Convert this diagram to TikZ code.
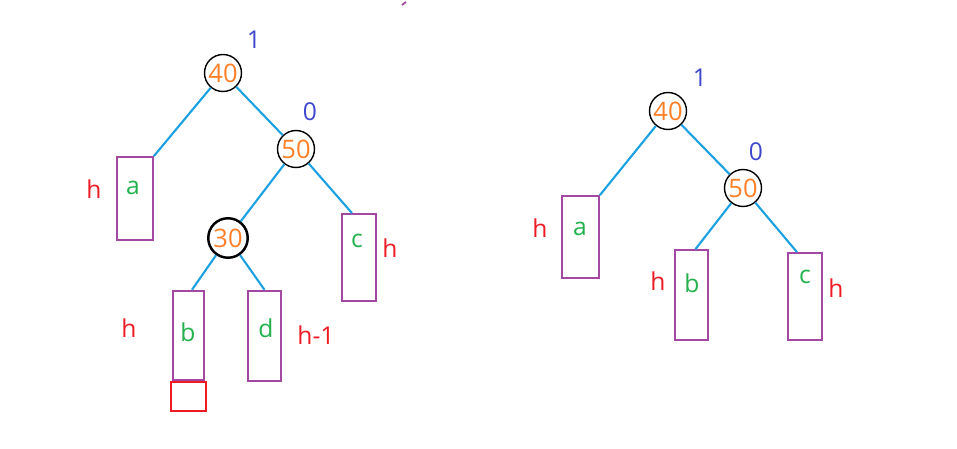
\documentclass[tikz,border=0pt]{standalone}
\usepackage{fontspec}
\setmainfont{Open Sans}
\usetikzlibrary{positioning}
\definecolor{edgeblue}{HTML}{1BA1E2}
\definecolor{boxpurple}{HTML}{A349A4}
\definecolor{keyorange}{HTML}{FF7F27}
\definecolor{leafgreen}{HTML}{22B14C}
\definecolor{heightred}{HTML}{ED1C24}
\definecolor{bfblue}{HTML}{3F48CC}

\begin{document}
\begin{tikzpicture}[
  x=0.2mm, y=-0.2mm,
  key/.style={circle, draw=black, line width=0.8pt, minimum size=7.4mm, inner sep=0pt, text=keyorange, font=\fontsize{14.5}{16}\selectfont},
  subtree/.style={rectangle, draw=boxpurple, line width=1pt, minimum width=6.8mm, minimum height=17.4mm, inner sep=0pt},
  leaf/.style={text=leafgreen, font=\fontsize{14}{16}\selectfont},
  height/.style={text=heightred, font=\fontsize{14}{16}\selectfont},
  bf/.style={text=bfblue, font=\fontsize{14}{16}\selectfont},
  link/.style={draw=edgeblue, line width=1.2pt}
]
  \useasboundingbox (0,0) rectangle (957,448);
  \draw[boxpurple, line width=1pt] (402,5) -- (406,2);

  % left tree
  \node[key] (l40) at (223,73) {40};
  \node[key] (l50) at (296,149) {50};
  \node[key, line width=1.4pt, minimum size=7.9mm] (l30) at (228,238) {30};
  \node[subtree, minimum width=7.2mm, minimum height=16.6mm] (la) at (135,198.5) {};
  \node[subtree] (lc) at (359,257.5) {};
  \node[subtree, line width=1.4pt, minimum width=6.2mm, minimum height=17.8mm] (lb) at (188.5,335.5) {};
  \node[subtree, line width=1.4pt, minimum width=6.6mm, minimum height=18mm] (ld) at (264.5,336) {};
  \node[rectangle, draw=heightred, line width=1.2pt, minimum width=7mm, minimum height=5.8mm, inner sep=0pt, below=0pt of lb] (lnew) {};
  \node[leaf] (la-t) at (133,188) {a};
  \node[leaf] (lc-t) at (357,241) {c};
  \node[leaf] (lb-t) at (188,332) {b};
  \node[leaf] (ld-t) at (266,328) {d};
  \node[height] (la-h) at (94,189) {h};
  \node[height] (lc-h) at (390,248) {h};
  \node[height] (lb-h) at (129,328) {h};
  \node[height] (ld-h) at (316,335) {h-1};
  \node[bf] (l40-bf) at (254,40) {1};
  \node[bf] (l50-bf) at (310,112) {0};
  \draw[link] (l40) -- (la.north east);
  \draw[link] (l40) -- (l50);
  \draw[link] (l50) -- (l30);
  \draw[link] (l50) -- ([xshift=-1.4mm]lc.north);
  \draw[link] (l30) -- ([xshift=0.7mm]lb.north);
  \draw[link] (l30) -- (ld.north);

  % right tree
  \node[key] (r40) at (668,111) {40};
  \node[key] (r50) at (743,188) {50};
  \node[subtree, minimum width=7.4mm, minimum height=16.4mm] (ra) at (580.5,237) {};
  \node[subtree, minimum width=6.6mm, minimum height=18mm] (rb) at (691.5,295) {};
  \node[subtree] (rc) at (805,296.5) {};
  \node[leaf] (ra-t) at (580,229) {a};
  \node[leaf] (rb-t) at (692,283) {b};
  \node[leaf] (rc-t) at (805,277) {c};
  \node[height] (ra-h) at (540,228) {h};
  \node[height] (rb-h) at (658,281) {h};
  \node[height] (rc-h) at (836,288) {h};
  \node[bf] (r40-bf) at (700,78) {1};
  \node[bf] (r50-bf) at (756,152) {0};
  \draw[link] (r40) -- (ra.north east);
  \draw[link] (r40) -- (r50);
  \draw[link] (r50) -- ([xshift=0.8mm]rb.north);
  \draw[link] (r50) -- ([xshift=-1.6mm]rc.north);
\end{tikzpicture}
\end{document}
